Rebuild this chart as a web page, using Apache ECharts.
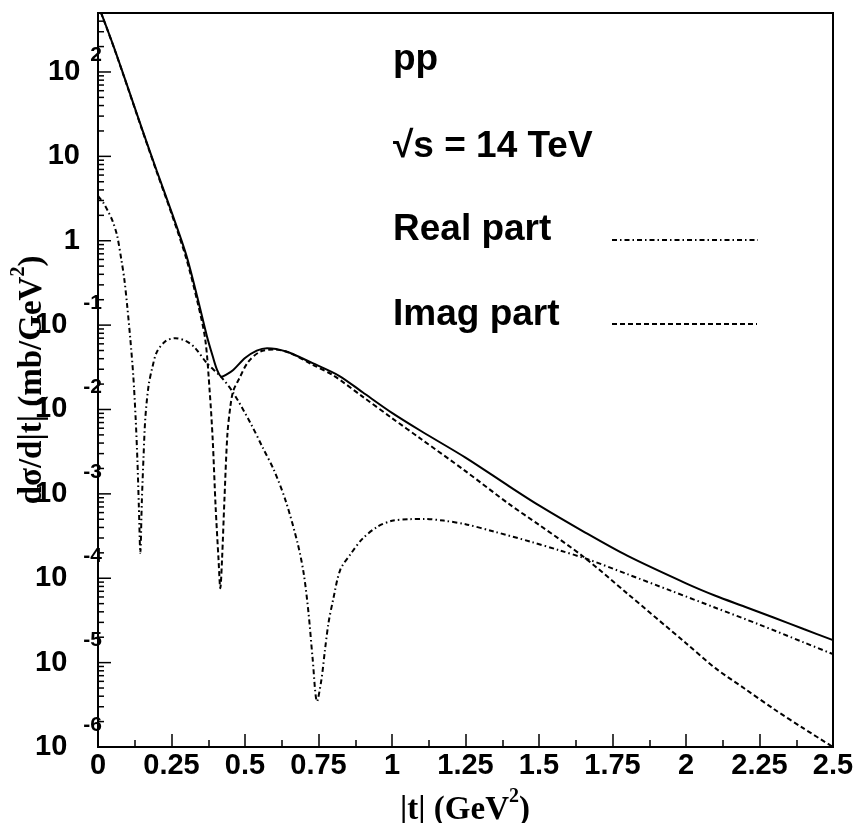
<!DOCTYPE html>
<html><head><meta charset="utf-8">
<script src="https://cdn.jsdelivr.net/npm/echarts@6/dist/echarts.min.js"></script>
<style>html,body{margin:0;padding:0;background:#fff}#c{width:859px;height:823px}</style>
</head><body><div id="c"></div>
<script>
// |t| values (GeV^2) and dσ/d|t| values (mb/GeV^2)
const totalT = [0, 0.05, 0.1, 0.15, 0.2, 0.25, 0.3, 0.34, 0.37, 0.39, 0.405, 0.42, 0.435, 0.46, 0.5, 0.54, 0.575, 0.64, 0.73, 0.82, 0.9, 1.0, 1.1, 1.25, 1.4, 1.5, 1.65, 1.8, 2.0, 2.1, 2.2, 2.3, 2.4, 2.5];
const totalV = [630, 215, 68, 21, 6.7, 2.2, 0.68, 0.20, 0.075, 0.043, 0.0295, 0.0245, 0.0257, 0.0294, 0.0407, 0.0499, 0.0533, 0.0486, 0.0354, 0.0251, 0.0160, 0.00912, 0.00552, 0.00269, 0.00122, 7.3e-4, 3.6e-4, 1.85e-4, 8.7e-5, 6.2e-5, 4.6e-5, 3.4e-5, 2.5e-5, 1.85e-5];

const imagT = [0, 0.05, 0.1, 0.15, 0.2, 0.25, 0.3, 0.34, 0.365, 0.38, 0.39, 0.40, 0.41, 0.416, 0.422, 0.43, 0.44, 0.45, 0.46, 0.48, 0.51, 0.552, 0.6, 0.65, 0.73, 0.8, 0.9, 1.0, 1.1, 1.25, 1.4, 1.5, 1.65, 1.8, 2.0, 2.1, 2.2, 2.3, 2.4, 2.5];
const imagV = [626, 213, 67, 20.6, 6.5, 2.1, 0.62, 0.178, 0.067, 0.0162, 4.5e-3, 7.1e-4, 1.66e-4, 7.6e-5, 1.7e-4, 8.5e-4, 5.0e-3, 0.0107, 0.0166, 0.0231, 0.0363, 0.0486, 0.0513, 0.0473, 0.0339, 0.0254, 0.0142, 7.9e-3, 4.44e-3, 1.86e-3, 7.5e-4, 4.3e-4, 1.81e-4, 6.6e-5, 1.7e-5, 8.6e-6, 4.9e-6, 2.8e-6, 1.66e-6, 1.0e-6];

const realT = [0, 0.02, 0.035, 0.05, 0.065, 0.08, 0.09, 0.1, 0.11, 0.12, 0.128, 0.134, 0.139, 0.144, 0.149, 0.155, 0.161, 0.172, 0.185, 0.2, 0.23, 0.263, 0.3, 0.33, 0.37, 0.42, 0.46, 0.52, 0.56, 0.6, 0.64, 0.68, 0.7, 0.716, 0.73, 0.745, 0.76, 0.772, 0.784, 0.8, 0.824, 0.86, 0.9, 0.95, 1.0, 1.06, 1.11, 1.175, 1.25, 1.35, 1.47, 1.57, 1.67, 1.8, 1.95, 2.1, 2.25, 2.4, 2.5];
const realV = [3.4, 2.75, 2.2, 1.7, 1.15, 0.58, 0.34, 0.16, 0.068, 0.0251, 7.94e-3, 2.51e-3, 7.08e-4, 2.0e-4, 7.94e-4, 2.82e-3, 7.94e-3, 0.0191, 0.0316, 0.0479, 0.0646, 0.070, 0.0646, 0.0537, 0.0355, 0.0240, 0.0158, 6.76e-3, 3.55e-3, 1.86e-3, 7.94e-4, 2.51e-4, 1.12e-4, 3.89e-5, 1.12e-5, 3.47e-6, 6.31e-6, 1.41e-5, 2.95e-5, 5.62e-5, 1.26e-4, 1.95e-4, 2.95e-4, 4.07e-4, 4.79e-4, 5.01e-4, 5.05e-4, 4.82e-4, 4.37e-4, 3.55e-4, 2.72e-4, 2.14e-4, 1.66e-4, 1.12e-4, 7.08e-5, 4.47e-5, 2.82e-5, 1.74e-5, 1.26e-5];

const yMin = 1e-6, yMax = 500;
const yMajorTicks = [1e-6, 1e-5, 1e-4, 1e-3, 1e-2, 1e-1, 1, 10, 100];
const xMin = 0, xMax = 2.5, xStep = 0.25;
const annotations = ['pp', '\u221As = 14 TeV', 'Real part', 'Imag part'];

// log minor tick positions (2..9 x 10^n)
const yMinorTicks = [];
for (let n = -6; n <= 2; n++) for (let k = 2; k <= 9; k++) { const v = k * Math.pow(10, n); if (v < yMax) yMinorTicks.push(v); }

const zip = (a, b) => a.map((t, i) => [t, b[i]]);
const SANS = '"Liberation Sans", Arial, sans-serif';
const SERIF = '"Liberation Serif", "Times New Roman", serif';

function yLabel(v) {
  const e = Math.log10(v), r = Math.round(e);
  if (Math.abs(e - r) > 1e-6) return '';
  if (r === 0) return '{c|1}';
  if (r === 1) return '{c|10}';
  return '{b|10}{' + (r > 0 ? 'ep' : 'en') + '|' + r + '}';
}

const chart = echarts.init(document.getElementById('c'), null, {renderer: 'canvas'});
chart.setOption({
  animation: false,
  backgroundColor: '#fff',
  grid: {left: 98, top: 13, width: 735, height: 734, show: true, borderColor: '#000', borderWidth: 2, backgroundColor: 'transparent'},
  xAxis: {
    type: 'value', min: xMin, max: xMax, interval: xStep,
    axisLine: {show: true, lineStyle: {color: '#000', width: 2}},
    axisTick: {show: true, inside: true, length: 13, lineStyle: {color: '#000', width: 1.5}},
    minorTick: {show: true, splitNumber: 2, length: 7, lineStyle: {color: '#000', width: 1.5}},
    splitLine: {show: false},
    axisLabel: {margin: 4, color: '#000', fontSize: 29, fontWeight: 'bold', fontFamily: SANS,
      formatter: v => String(Math.round(v * 100) / 100)}
  },
  yAxis: {
    type: 'log', min: yMin, max: yMax, logBase: 10,
    axisLine: {show: true, lineStyle: {color: '#000', width: 2}},
    axisTick: {show: false},
    splitLine: {show: false},
    axisLabel: {
      margin: -4, color: '#000', showMaxLabel: false, showMinLabel: true, hideOverlap: false,
      formatter: yLabel,
      rich: {
        b: {fontSize: 29, fontWeight: 'bold', fontFamily: SANS, color: '#000', lineHeight: 22, padding: [24, 0, 24, 0]},
        c: {fontSize: 29, fontWeight: 'bold', fontFamily: SANS, color: '#000', lineHeight: 22, padding: [24, 22, 24, 0]},
        ep: {fontSize: 21, fontWeight: 'bold', fontFamily: SANS, color: '#000', lineHeight: 20, padding: [8, 0, 42, 10]},
        en: {fontSize: 21, fontWeight: 'bold', fontFamily: SANS, color: '#000', lineHeight: 20, padding: [3, 0, 47, 16]}
      }
    }
  },
  series: [
    {type: 'custom', name: 'majorTicks', coordinateSystem: 'cartesian2d', silent: true, clip: false, z: 5,
      data: yMajorTicks.map(v => [xMin, v]),
      renderItem: (params, api) => {
        const p = api.coord([api.value(0), api.value(1)]);
        return {type: 'line', shape: {x1: p[0], y1: p[1], x2: p[0] + 13, y2: p[1]}, style: {stroke: '#000', lineWidth: 1.5}};
      }},
    {type: 'custom', name: 'minorTicks', coordinateSystem: 'cartesian2d', silent: true, clip: false, z: 5,
      data: yMinorTicks.map(v => [xMin, v]),
      renderItem: (params, api) => {
        const p = api.coord([api.value(0), api.value(1)]);
        return {type: 'line', shape: {x1: p[0], y1: p[1], x2: p[0] + 6, y2: p[1]}, style: {stroke: '#000', lineWidth: 1.5}};
      }},
    {type: 'line', name: 'Real part', data: zip(realT, realV), showSymbol: false, symbol: 'none', clip: true, smooth: 0.3,
      lineStyle: {color: '#000', width: 2, type: [5, 3, 1.5, 3]}},
    {type: 'line', name: 'Imag part', data: zip(imagT, imagV), showSymbol: false, symbol: 'none', clip: true, smooth: 0.3,
      lineStyle: {color: '#000', width: 2, type: [5, 3]}},
    {type: 'line', name: 'Total', data: zip(totalT, totalV), showSymbol: false, symbol: 'none', clip: true, smooth: 0.3,
      lineStyle: {color: '#000', width: 2, type: 'solid'}}
  ],
  graphic: [
    {type: 'text', x: 393, y: 60, style: {text: annotations[0], fill: '#000', font: 'bold 37px ' + SANS, align: 'left', verticalAlign: 'middle'}},
    {type: 'text', x: 393, y: 147, style: {text: annotations[1], fill: '#000', font: 'bold 37px ' + SANS, align: 'left', verticalAlign: 'middle'}},
    {type: 'text', x: 393, y: 230, style: {text: annotations[2], fill: '#000', font: 'bold 37px ' + SANS, align: 'left', verticalAlign: 'middle'}},
    {type: 'text', x: 393, y: 315, style: {text: annotations[3], fill: '#000', font: 'bold 37px ' + SANS, align: 'left', verticalAlign: 'middle'}},
    {type: 'line', shape: {x1: 612, y1: 240, x2: 758, y2: 240}, style: {stroke: '#000', lineWidth: 2, lineDash: [5, 3, 1.5, 3]}},
    {type: 'line', shape: {x1: 612, y1: 324, x2: 757, y2: 324}, style: {stroke: '#000', lineWidth: 2, lineDash: [5, 3]}},
    {type: 'text', x: 465, y: 810, style: {
      text: '{t||t| (GeV}{s|2}{t|)}', align: 'center', verticalAlign: 'middle',
      rich: {
        t: {fontSize: 33, fontWeight: 'bold', fontFamily: SERIF, fill: '#000', lineHeight: 34, padding: [10, 0, 10, 0]},
        s: {fontSize: 20, fontWeight: 'bold', fontFamily: SERIF, fill: '#000', lineHeight: 20, padding: [4, 0, 30, 0]}
      }}},
    {type: 'text', x: 32, y: 380, rotation: Math.PI / 2, style: {
      text: '{t|d\u03C3/d|t| (mb/GeV}{s|2}{t|)}', align: 'center', verticalAlign: 'middle',
      rich: {
        t: {fontSize: 33, fontWeight: 'bold', fontFamily: SERIF, fill: '#000', lineHeight: 34, padding: [10, 0, 10, 0]},
        s: {fontSize: 20, fontWeight: 'bold', fontFamily: SERIF, fill: '#000', lineHeight: 20, padding: [4, 0, 30, 0]}
      }}}
  ]
});
</script>
</body></html>
